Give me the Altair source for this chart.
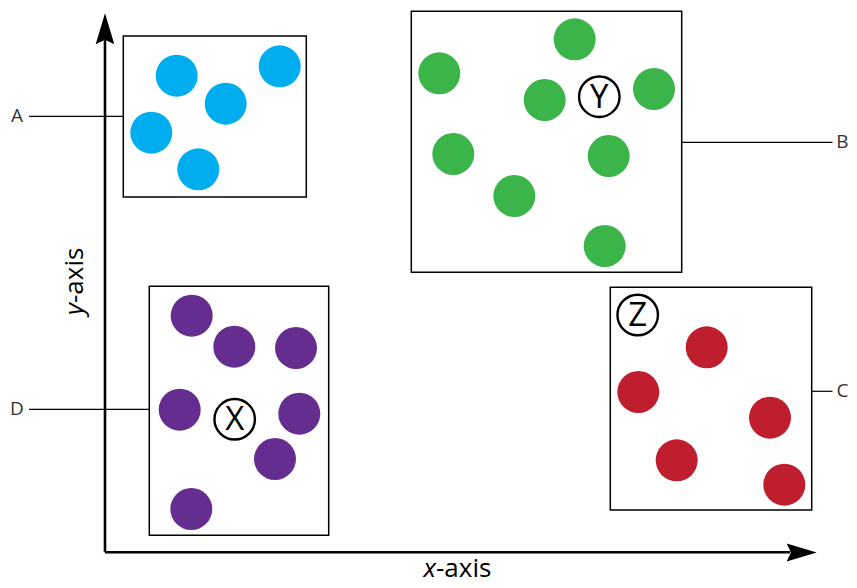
import altair as alt
import pandas as pd

# Dot positions (diagram coordinates)
blue_x = [176.7, 225.7, 279.7, 151.3, 198.3]
blue_y = [75.7, 103.7, 66.3, 132.7, 169.3]
green_x = [574.7, 439.3, 544.7, 654.0, 453.3, 608.7, 514.3, 604.7]
green_y = [39.3, 73.3, 100.0, 89.0, 154.0, 156.0, 196.0, 246.0]
purple_x = [191.7, 234.3, 296.0, 179.7, 299.3, 275.0, 191.3]
purple_y = [315.7, 346.7, 348.0, 409.7, 413.7, 459.0, 509.0]
red_x = [706.7, 638.3, 770.0, 676.7, 784.3]
red_y = [347.3, 392.0, 417.7, 460.3, 484.7]

groups = ["blue", "green", "purple", "red"]
colors = ["#00AEEF", "#3BB54A", "#662D91", "#BE1E2D"]

# Boxes
box_x1 = [123.3, 411.3, 149.3, 610.3]
box_x2 = [306.3, 681.7, 328.7, 811.7]
box_y1 = [36.0, 11.3, 286.3, 287.3]
box_y2 = [197.0, 272.3, 535.3, 510.0]

# Leader lines and labels
lead_labels = ["A", "B", "C", "D"]
lead_x1 = [29.0, 681.7, 811.7, 29.0]
lead_x2 = [123.3, 832.5, 832.5, 149.3]
lead_y = [116.3, 142.3, 391.3, 409.3]
label_x = [17.0, 848.5, 848.5, 17.0]
label_align = ["center", "right", "right", "center"]

# Circled markers
mark_letters = ["Y", "X", "Z"]
mark_x = [599.3, 234.7, 637.7]
mark_y = [96.7, 419.3, 315.0]

dots = pd.concat([
    pd.DataFrame({"x": blue_x, "y": blue_y, "g": "blue"}),
    pd.DataFrame({"x": green_x, "y": green_y, "g": "green"}),
    pd.DataFrame({"x": purple_x, "y": purple_y, "g": "purple"}),
    pd.DataFrame({"x": red_x, "y": red_y, "g": "red"}),
])
boxes = pd.DataFrame({"x": box_x1, "x2": box_x2, "y": box_y1, "y2": box_y2})
leads = pd.DataFrame({"x": lead_x1, "x2": lead_x2, "y": lead_y, "lx": label_x,
                      "t": lead_labels, "al": label_align})
marks = pd.DataFrame({"x": mark_x, "y": mark_y, "t": mark_letters})

W, H = 841, 572
xs = alt.Scale(domain=[8, 849], nice=False, zero=False)
ys = alt.Scale(domain=[8, 580], nice=False, zero=False, reverse=True)

def X(f="x"):
    return alt.X(f"{f}:Q", scale=xs, axis=None)

def Y(f="y"):
    return alt.Y(f"{f}:Q", scale=ys, axis=None)

box_layer = alt.Chart(boxes).mark_rect(fill="white", stroke="black", strokeWidth=1.5).encode(
    x=X(), x2="x2:Q", y=Y(), y2="y2:Q")

lead_layer = alt.Chart(leads).mark_rule(color="black", strokeWidth=1.2).encode(
    x=X(), x2="x2:Q", y=Y())

label_left = alt.Chart(leads).transform_filter(alt.datum.al == "center").mark_text(
    fontSize=19, font="Open Sans", color="#333333", align="center", baseline="middle"
).encode(x=X("lx"), y=Y(), text="t:N")
label_right = alt.Chart(leads).transform_filter(alt.datum.al == "right").mark_text(
    fontSize=19, font="Open Sans", color="#333333", align="right", baseline="middle"
).encode(x=X("lx"), y=Y(), text="t:N")

dot_layer = alt.Chart(dots).mark_circle(size=1764, opacity=1).encode(
    x=X(), y=Y(),
    color=alt.Color("g:N", scale=alt.Scale(domain=groups, range=colors), legend=None))

ring_layer = alt.Chart(marks).mark_point(shape="circle", filled=False, size=1640,
                                         stroke="black", strokeWidth=2.4, opacity=1).encode(
    x=X(), y=Y())

letter_layer = alt.Chart(marks).mark_text(fontSize=33, font="Open Sans", color="black",
                                          align="center", baseline="middle", dy=1).encode(
    x=X(), y=Y(), text="t:N")

# Axes
axis_h = pd.DataFrame({"x": [105.0], "x2": [790.0], "y": [552.3]})
axis_v = pd.DataFrame({"x": [105.0], "y": [40.0], "y2": [552.3]})
axis_h_layer = alt.Chart(axis_h).mark_rule(color="black", strokeWidth=2.6).encode(
    x=X(), x2="x2:Q", y=Y())
axis_v_layer = alt.Chart(axis_v).mark_rule(color="black", strokeWidth=2.6).encode(
    x=X(), y=Y(), y2="y2:Q")

arrow_up = pd.DataFrame({"x": [105.0], "y": [28.7]})
arrow_right = pd.DataFrame({"x": [801.7], "y": [552.5]})
up_layer = alt.Chart(arrow_up).mark_point(
    shape="M0,-1 L0.6,1 L0,0.72 L-0.6,1 Z", size=961, filled=True, color="black", opacity=1
).encode(x=X(), y=Y())
right_layer = alt.Chart(arrow_right).mark_point(
    shape="M1,0 L-1,0.6 L-0.72,0 L-1,-0.6 Z", size=900, filled=True, color="black", opacity=1
).encode(x=X(), y=Y())

# Axis titles (italic variable + regular "-axis")
xt_var = pd.DataFrame({"x": [436.0], "y": [576.5], "t": ["x"]})
xt_rest = pd.DataFrame({"x": [436.0], "y": [576.5], "t": ["-axis"]})
yt_var = pd.DataFrame({"x": [83.0], "y": [303.0], "t": ["y"]})
yt_rest = pd.DataFrame({"x": [83.0], "y": [303.0], "t": ["-axis"]})

xt1 = alt.Chart(xt_var).mark_text(fontSize=26, font="Open Sans", fontStyle="italic",
                                  align="right", baseline="alphabetic", color="black").encode(
    x=X(), y=Y(), text="t:N")
xt2 = alt.Chart(xt_rest).mark_text(fontSize=26, font="Open Sans",
                                   align="left", baseline="alphabetic", color="black").encode(
    x=X(), y=Y(), text="t:N")
yt1 = alt.Chart(yt_var).mark_text(fontSize=26, font="Open Sans", fontStyle="italic", angle=270,
                                  align="right", baseline="alphabetic", color="black").encode(
    x=X(), y=Y(), text="t:N")
yt2 = alt.Chart(yt_rest).mark_text(fontSize=26, font="Open Sans", angle=270,
                                   align="left", baseline="alphabetic", color="black").encode(
    x=X(), y=Y(), text="t:N")

chart = alt.layer(
    lead_layer, box_layer, dot_layer, ring_layer, letter_layer, label_left, label_right,
    axis_h_layer, axis_v_layer, up_layer, right_layer, xt1, xt2, yt1, yt2
).properties(
    width=W, height=H, padding=0, autosize=alt.AutoSizeParams(type="none")
).configure_view(stroke=None)

chart.save("out.html", embed_options={"renderer": "svg", "actions": False})
